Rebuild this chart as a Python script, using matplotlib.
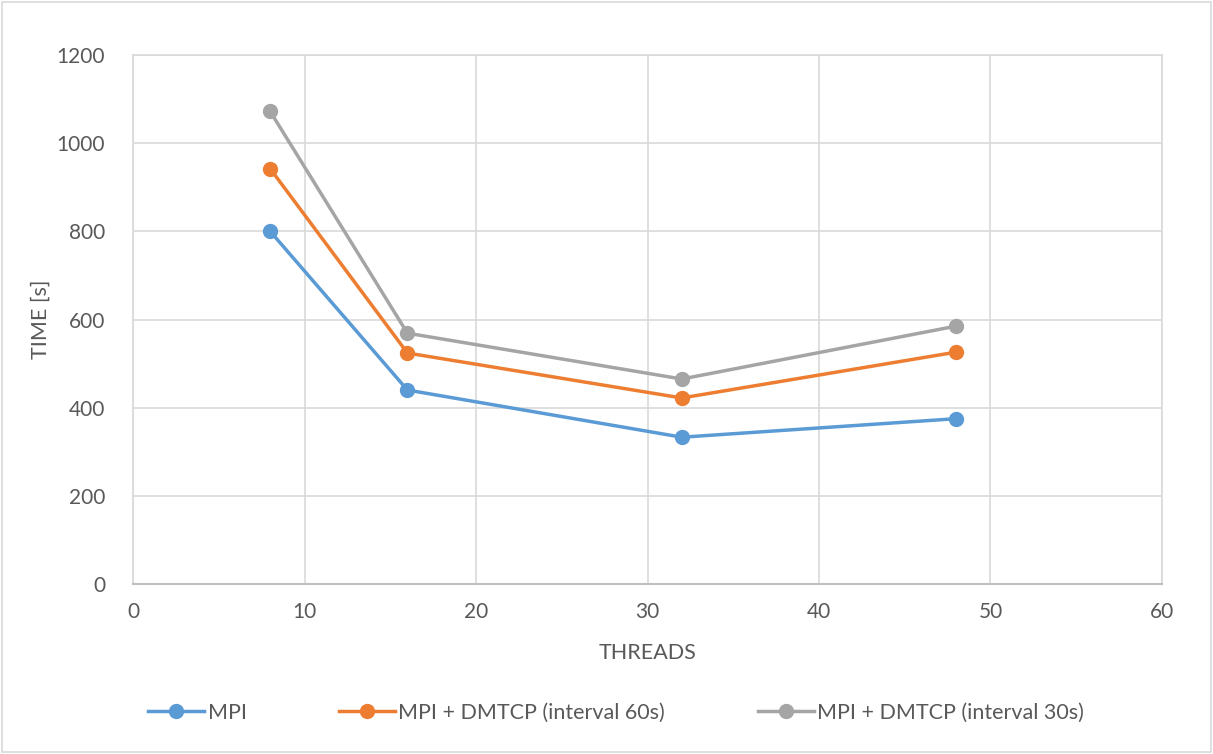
import matplotlib.pyplot as plt
from matplotlib.patches import Rectangle

plt.rcParams['font.family'] = ['Lato', 'DejaVu Sans']

# data
threads = [8, 16, 32, 48]
mpi = [800, 440, 333, 375]
dmtcp_60 = [942, 524, 422, 526]
dmtcp_30 = [1072, 569, 465, 585]

labels = ['MPI', 'MPI + DMTCP (interval 60s)', 'MPI + DMTCP (interval 30s)']
colors = ['#5B9BD5', '#ED7D31', '#A5A5A5']
x_ticks = [0, 10, 20, 30, 40, 50, 60]
y_ticks = [0, 200, 400, 600, 800, 1000, 1200]

W, H = 1213, 754
fig = plt.figure(figsize=(W / 100, H / 100), dpi=100)
ax = fig.add_axes([133 / W, 1 - 584 / H, (1162 - 133) / W, (584 - 55) / H])

# outer chart border
fig.patches.append(Rectangle((0.002, 0.002), 0.996, 0.996, transform=fig.transFigure,
                             fill=False, edgecolor='#d9d9d9', linewidth=1.2))

for ys, lab, col in zip([mpi, dmtcp_60, dmtcp_30], labels, colors):
    ax.plot(threads, ys, color=col, linewidth=2.5, marker='o', markersize=10,
            label=lab, zorder=3)

ax.set_xlim(0, 60)
ax.set_ylim(0, 1200)
ax.set_xticks(x_ticks)
ax.set_yticks(y_ticks)
ax.grid(True, color='#d9d9d9', linewidth=1.2)
ax.set_axisbelow(True)
ax.tick_params(length=0, labelsize=15, labelcolor='#595959')
ax.tick_params(axis='x', pad=13)
ax.tick_params(axis='y', pad=20)
for s in ['left', 'top', 'right']:
    ax.spines[s].set_color('#d9d9d9')
    ax.spines[s].set_linewidth(1.2)
ax.spines['bottom'].set_color('#bfbfbf')
ax.spines['bottom'].set_linewidth(1.5)

ax.set_xlabel('THREADS', fontsize=15.5, color='#595959', labelpad=15)
ax.set_ylabel('TIME [s]', fontsize=15.5, color='#595959', labelpad=4)

handles, labs = ax.get_legend_handles_labels()
fig.legend(handles, labs, loc='center', bbox_to_anchor=(616 / W, 1 - 713 / H), ncol=3,
           frameon=False, fontsize=15.5, handlelength=2.6, columnspacing=4.3,
           handletextpad=0.15, labelcolor='#595959')

fig.savefig('out.png', dpi=100)
